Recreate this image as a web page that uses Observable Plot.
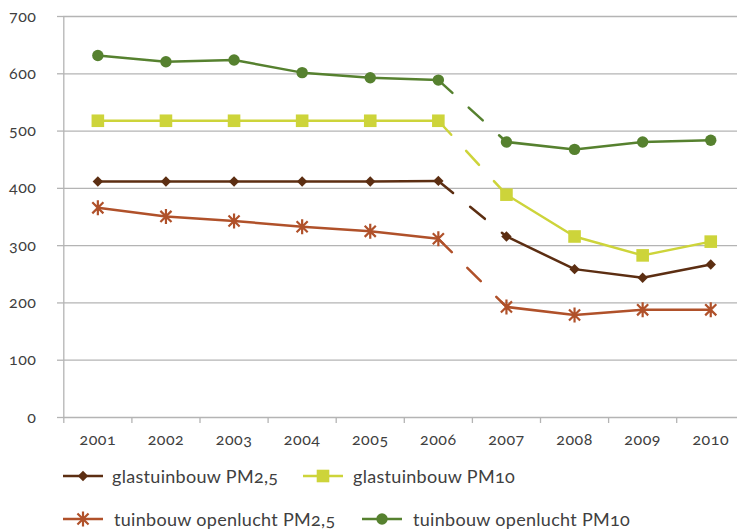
<!DOCTYPE html>
<html><head><meta charset="utf-8">
<script src="https://cdn.jsdelivr.net/npm/d3@7"></script>
<script src="https://cdn.jsdelivr.net/npm/@observablehq/plot@0.6"></script>
<style>
body{margin:0;background:#fff;font-family:Lato,"Open Sans",sans-serif;color:#404040;}
#chart svg{font-feature-settings:"onum";}
#legend{position:relative;height:74px;font-size:18px;letter-spacing:0.3px;font-feature-settings:"onum";}
#legend .item{position:absolute;display:flex;align-items:center;height:24px;white-space:nowrap;}
#legend .item svg{display:block;}
</style></head><body>
<div id="chart"></div>
<div id="legend"></div>
<script>
// ---- data ----
const years = [2001, 2002, 2003, 2004, 2005, 2006, 2007, 2008, 2009, 2010];
const seriesNames = ["glastuinbouw PM2,5", "glastuinbouw PM10", "tuinbouw openlucht PM2,5", "tuinbouw openlucht PM10"];
const glastuinbouwPM25 = [412, 412, 412, 412, 412, 413, 316, 259, 244, 267];
const glastuinbouwPM10 = [518, 518, 518, 518, 518, 518, 389, 316, 283, 307];
const openluchtPM25 = [366, 351, 343, 333, 325, 312, 193, 179, 188, 188];
const openluchtPM10 = [632, 621, 624, 602, 593, 589, 481, 468, 481, 484];
const yTicks = [0, 100, 200, 300, 400, 500, 600, 700];
const breakYear = 2006; // dashed segment between 2006 and 2007

// ---- styles ----
const colors = ["#5c2e12", "#cdd43a", "#b0512a", "#56812f"];
const gridColor = "#b4b4b4";
const textColor = "#404040";

const symDiamond = {draw(c, size){const r = Math.sqrt(size/Math.PI); c.moveTo(0,-r); c.lineTo(r,0); c.lineTo(0,r); c.lineTo(-r,0); c.closePath();}};
const symSquare = {draw(c, size){const r = Math.sqrt(size/Math.PI); c.rect(-r,-r,2*r,2*r);}};
const symCircle = {draw(c, size){const r = Math.sqrt(size/Math.PI); c.moveTo(r,0); c.arc(0,0,r,0,2*Math.PI); c.closePath();}};
const symStar = {draw(c, size){const r = Math.sqrt(size/Math.PI); const a = r*0.74; c.moveTo(0,-r); c.lineTo(0,r); c.moveTo(-a,-a); c.lineTo(a,a); c.moveTo(-a,a); c.lineTo(a,-a);}};

const seriesValues = [glastuinbouwPM25, glastuinbouwPM10, openluchtPM25, openluchtPM10];
const markerStyle = [
  {symbol: symDiamond, r: 5.2, fill: colors[0], stroke: "none"},
  {symbol: symSquare, r: 6.3, fill: colors[1], stroke: "none"},
  {symbol: symStar, r: 7.5, fill: "none", stroke: colors[2], strokeWidth: 2.2},
  {symbol: symCircle, r: 5.7, fill: colors[3], stroke: "none"}
];

const rows = [];
seriesNames.forEach((name, i) => years.forEach((yr, j) => rows.push({series: name, idx: i, year: yr, value: seriesValues[i][j]})));

const marks = [
  Plot.gridY(yTicks, {stroke: gridColor, strokeOpacity: 1, strokeWidth: 1.3}),
  Plot.ruleX([years[0] - 0.5], {stroke: gridColor, strokeWidth: 1.3}),
  Plot.axisY(yTicks, {tickSize: 6, tickPadding: 21, stroke: gridColor, strokeWidth: 1.3, fill: textColor, fontSize: 16, label: null}),
  Plot.axisX(years.map(y => y - 0.5).concat([years[years.length-1] + 0.5]), {tickSize: 6, tickFormat: () => "", stroke: gridColor, strokeWidth: 1.3, label: null}),
  Plot.axisX(years, {tickSize: 0, tickPadding: 16, tickFormat: d => String(d), fill: textColor, fontSize: 16, label: null})
];
seriesNames.forEach((name, i) => {
  const d = rows.filter(r => r.series === name);
  marks.push(
    Plot.line(d.filter(r => r.year <= breakYear), {x: "year", y: "value", stroke: colors[i], strokeWidth: 2.5}),
    Plot.line(d.filter(r => r.year >= breakYear + 1), {x: "year", y: "value", stroke: colors[i], strokeWidth: 2.5}),
    Plot.line(d.filter(r => r.year === breakYear || r.year === breakYear + 1), {x: "year", y: "value", stroke: colors[i], strokeWidth: 2.5, strokeDasharray: "19,22"}),
    Plot.dot(d, {x: "year", y: "value", ...markerStyle[i]})
  );
});

const chart = Plot.plot({
  width: 737,
  height: 455,
  marginTop: 16,
  marginBottom: 38,
  marginLeft: 63,
  marginRight: 0,
  style: "font-family: Lato, 'Open Sans', sans-serif; font-size: 16px; letter-spacing: 0.5px; color: #404040; background: #fff;",
  x: {type: "linear", domain: [years[0] - 0.5, years[years.length-1] + 0.5], range: [63.3, 744.3]},
  y: {domain: [0, 700], range: [417, 16]},
  marks
});
document.getElementById("chart").appendChild(chart);

// ---- legend ----
const legendLayout = [
  {left: 63, top: 9, textLeft: 112},
  {left: 303, top: 9, textLeft: 353},
  {left: 63, top: 52, textLeft: 114},
  {left: 362, top: 52, textLeft: 413}
];
const legend = document.getElementById("legend");
seriesNames.forEach((name, i) => {
  const L = legendLayout[i];
  const item = document.createElement("div");
  item.className = "item";
  item.style.left = L.left + "px";
  item.style.top = L.top + "px";
  const w = 40, h = 24;
  const ms = markerStyle[i];
  const path = d3.symbol(ms.symbol, Math.PI * ms.r * ms.r)();
  item.innerHTML = `<svg width="${w}" height="${h}"><line x1="0" x2="${w}" y1="${h/2}" y2="${h/2}" stroke="${colors[i]}" stroke-width="2.5"/><path d="${path}" transform="translate(${w/2},${h/2})" fill="${ms.fill}" stroke="${ms.stroke}" stroke-width="${ms.strokeWidth || 0}"/></svg><span style="margin-left:${L.textLeft - L.left - w}px">${name}</span>`;
  legend.appendChild(item);
});
</script>
</body></html>
